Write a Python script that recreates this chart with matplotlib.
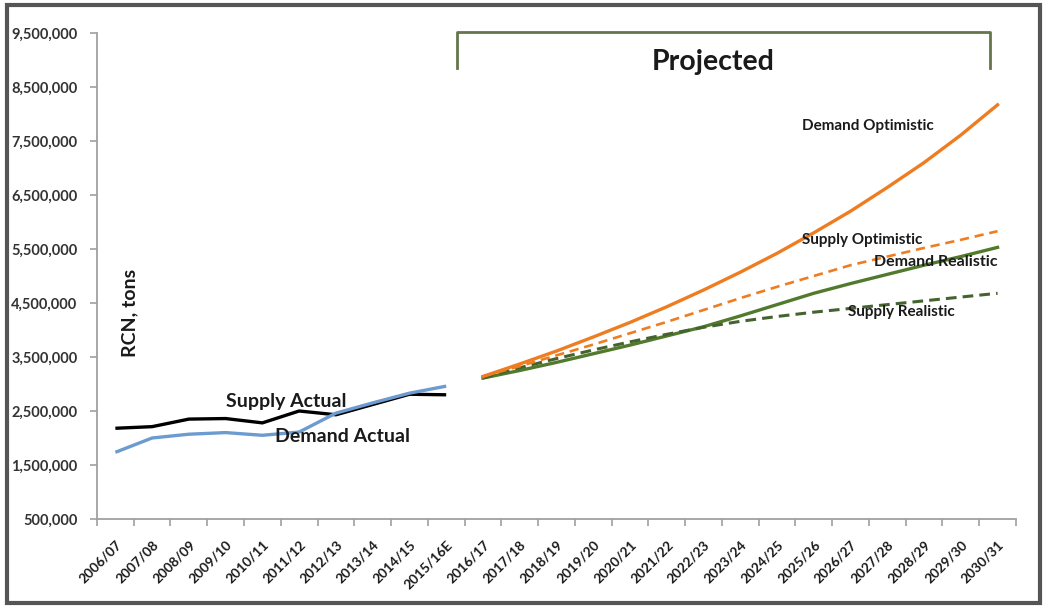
import matplotlib
matplotlib.use("Agg")
import matplotlib.pyplot as plt
from matplotlib.lines import Line2D
from matplotlib.patches import Rectangle
from matplotlib.ticker import FuncFormatter

plt.rcParams['font.family'] = ['Lato', 'DejaVu Sans']
plt.rcParams['font.weight'] = 'bold'

seasons = ["2006/07", "2007/08", "2008/09", "2009/10", "2010/11", "2011/12",
           "2012/13", "2013/14", "2014/15", "2015/16E", "2016/17", "2017/18",
           "2018/19", "2019/20", "2020/21", "2021/22", "2022/23", "2023/24",
           "2024/25", "2025/26", "2026/27", "2027/28", "2028/29", "2029/30",
           "2030/31"]

# actual seasons (first ten)
supply_actual = [2180000, 2210000, 2350000, 2360000, 2280000, 2500000,
                 2430000, 2620000, 2810000, 2800000]
demand_actual = [1735000, 2000000, 2070000, 2100000, 2050000, 2110000,
                 2460000, 2650000, 2830000, 2960000]

# projections, 2016/17 to 2030/31
demand_optimistic = [3140000, 3370000, 3610000, 3870000, 4140000, 4430000,
                     4740000, 5070000, 5420000, 5800000, 6200000, 6640000,
                     7100000, 7610000, 8170000]
supply_optimistic = [3140000, 3330000, 3530000, 3730000, 3940000, 4150000,
                     4370000, 4590000, 4800000, 5000000, 5200000, 5360000,
                     5520000, 5670000, 5830000]
demand_realistic = [3110000, 3250000, 3400000, 3560000, 3720000, 3890000,
                    4060000, 4260000, 4470000, 4680000, 4860000, 5030000,
                    5200000, 5360000, 5530000]
supply_realistic = [3110000, 3300000, 3470000, 3630000, 3780000, 3920000,
                    4050000, 4160000, 4250000, 4330000, 4400000, 4470000,
                    4540000, 4610000, 4680000]

y_ticks = [500000, 1500000, 2500000, 3500000, 4500000, 5500000, 6500000,
           7500000, 8500000, 9500000]

ORANGE = "#ee7d22"
GREEN = "#527a2c"
DGREEN = "#45632f"
BLUE = "#6c9bd0"
TEXT = "#1a1a1a"

fig = plt.figure(figsize=(10.45, 6.07), dpi=100)
ax = fig.add_axes([0.0928, 0.145, 0.8794, 0.8006])

x_act = list(range(len(supply_actual)))
x_proj = list(range(10, 10 + len(demand_optimistic)))

ax.plot(x_act, supply_actual, color="black", lw=2.4, solid_capstyle="butt")
ax.plot(x_act, demand_actual, color=BLUE, lw=2.4, solid_capstyle="butt")

ax.plot(x_proj, demand_realistic, color=GREEN, lw=2.4)
ax.plot(x_proj, supply_realistic, color=DGREEN, lw=2.2, dashes=(3.5, 2))
ax.plot(x_proj, supply_optimistic, color=ORANGE, lw=1.9, dashes=(3.5, 2.2))
ax.plot(x_proj, demand_optimistic, color=ORANGE, lw=2.4)

ax.set_xlim(-0.5, len(seasons) - 0.5)
ax.set_ylim(500000, 9500000)

ax.set_xticks(range(len(seasons)))
ax.set_xticklabels(seasons, rotation=45, ha="right", rotation_mode="anchor",
                   fontsize=9.8, color=TEXT)
ax.set_xticks([i - 0.5 for i in range(len(seasons) + 1)], minor=True)
ax.tick_params(axis="x", which="major", length=0, pad=14)
ax.tick_params(axis="x", which="minor", length=5, color="#a0a0a0", width=1.2)

ax.set_yticks(y_ticks)
ax.yaxis.set_major_formatter(FuncFormatter(lambda v, p: f"{int(v):,}"))
ax.tick_params(axis="y", length=5, color="#a0a0a0", width=1.2, pad=9,
               labelsize=10.5, labelcolor="#333333")

for side in ("top", "right"):
    ax.spines[side].set_visible(False)
for side in ("left", "bottom"):
    ax.spines[side].set_color("#a0a0a0")
    ax.spines[side].set_linewidth(1.3)

# series labels
ax.text(4.66, 2670000, "Supply Actual", fontsize=14, ha="center",
        va="center", color=TEXT)
ax.text(6.19, 2020000, "Demand Actual", fontsize=14, ha="center",
        va="center", color=TEXT)
ax.text(18.69, 7780000, "Demand Optimistic", fontsize=11, ha="left",
        va="center", color=TEXT)
ax.text(18.69, 5670000, "Supply Optimistic", fontsize=11, ha="left",
        va="center", color=TEXT)
ax.text(20.65, 5260000, "Demand Realistic", fontsize=11.5, ha="left",
        va="center", color=TEXT)
ax.text(19.92, 4330000, "Supply Realistic", fontsize=11, ha="left",
        va="center", color=TEXT)

ax.text(0.036, 0.424, "RCN, tons", transform=ax.transAxes, rotation=90,
        fontsize=14, ha="center", va="center", color=TEXT)

# bracket over the projected seasons
bx0, bx1 = 9.29, 23.79
ytop, ybot = 9520000, 8850000
ax.add_line(Line2D([bx0, bx0, bx1, bx1], [ybot, ytop, ytop, ybot],
                   color="#66764a", lw=2, clip_on=False,
                   solid_joinstyle="round"))
ax.text(16.27, 8960000, "Projected", fontsize=20.5, ha="center",
        va="center", color=TEXT)

fig.patches.append(Rectangle((7 / 1045, 1 - 603 / 607), 1033 / 1045,
                             598 / 607, transform=fig.transFigure,
                             fill=False, edgecolor="#555555", lw=3))

fig.savefig("out.png", dpi=100)
